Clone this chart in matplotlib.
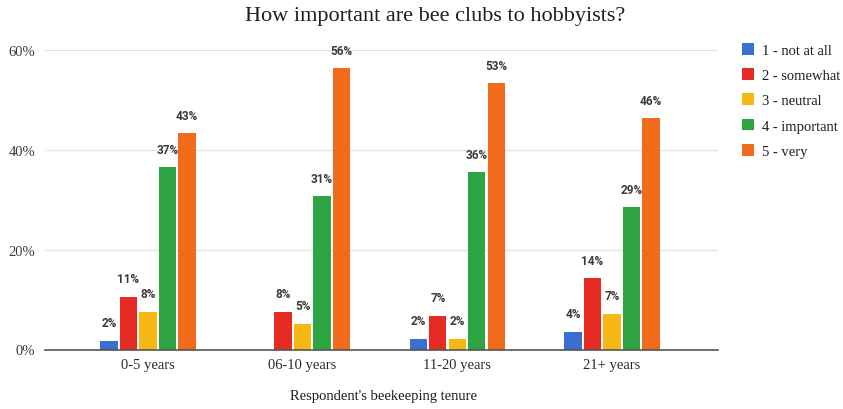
import numpy as np
import matplotlib
matplotlib.use("Agg")
import matplotlib.pyplot as plt
from matplotlib.patches import Patch

# Dados (percentual de respondentes)
categories = ["0-5 years", "06-10 years", "11-20 years", "21+ years"]
series_names = ["1 - not at all", "2 - somewhat", "3 - neutral", "4 - important", "5 - very"]
not_at_all = [1.8, 0.0, 2.2, 3.6]
somewhat = [10.6, 7.6, 6.8, 14.4]
neutral = [7.6, 5.2, 2.2, 7.2]
important = [36.6, 30.8, 35.6, 28.6]
very = [43.4, 56.4, 53.4, 46.4]
yticks = [0, 20, 40, 60]

colors = ["#3a6fd2", "#e52b24", "#f7b813", "#2ea443", "#f26b1d"]
SERIF = "Liberation Serif"
SANS = "Roboto"

fig = plt.figure(figsize=(8.43, 4.10), dpi=100)
ax = fig.add_axes([45 / 843, 1 - 350.5 / 410, (718 - 45) / 843, (350.5 - 51) / 410])

x = np.arange(len(categories))
width = 0.112
step = 0.126
all_series = [not_at_all, somewhat, neutral, important, very]

for i, (vals, color) in enumerate(zip(all_series, colors)):
    pos = x + (i - 2) * step
    bars = ax.bar(pos, vals, width, color=color, zorder=3)
    for b, v in zip(bars, vals):
        if v <= 0:
            continue
        ax.annotate(f"{v:.0f}%", (b.get_x() + b.get_width() / 2, v),
                    xytext=(0, 8), textcoords="offset points",
                    ha="center", va="bottom", fontsize=8.5,
                    fontweight="bold", family=SANS, color="#3a3a3a",
                    annotation_clip=False)

ax.set_xlim(-0.665, 3.685)
ax.set_ylim(0, 60)
ax.set_yticks(yticks)
ax.set_yticklabels([f"{t}%" for t in yticks], family=SERIF, fontsize=10.5, color="#3a3a3a")
ax.set_xticks(x)
ax.set_xticklabels(categories, family=SERIF, fontsize=10.5, color="#2a2a2a")
ax.tick_params(axis="both", length=0)
ax.tick_params(axis="y", pad=7)
ax.tick_params(axis="x", pad=6)

ax.grid(True, axis="y", color="#e2e2e2", linewidth=0.9, zorder=0)
for s in ["top", "right", "left"]:
    ax.spines[s].set_visible(False)
ax.spines["bottom"].set_color("#555555")
ax.spines["bottom"].set_linewidth(1.2)
ax.spines["bottom"].set_zorder(4)

fig.text(435 / 843, 1 - 16 / 410, "How important are bee clubs to hobbyists?",
         ha="center", va="center", family=SERIF, fontsize=16, color="#1e1e1e")
fig.text(384 / 843, 1 - 397 / 410, "Respondent's beekeeping tenure",
         ha="center", va="center", family=SERIF, fontsize=10.5, color="#1e1e1e")

handles = [Patch(facecolor=c, edgecolor="none", label=n) for c, n in zip(colors, series_names)]
leg = fig.legend(handles=handles, loc="upper left", bbox_to_anchor=(742 / 843, 1 - 44 / 410),
                 frameon=False, borderpad=0, borderaxespad=0,
                 handlelength=0.85, handleheight=0.85,
                 handletextpad=0.5, labelspacing=0.78,
                 prop={"family": SERIF, "size": 10.5})
for t in leg.get_texts():
    t.set_color("#1e1e1e")

fig.savefig("out.png", dpi=100, facecolor="white")
